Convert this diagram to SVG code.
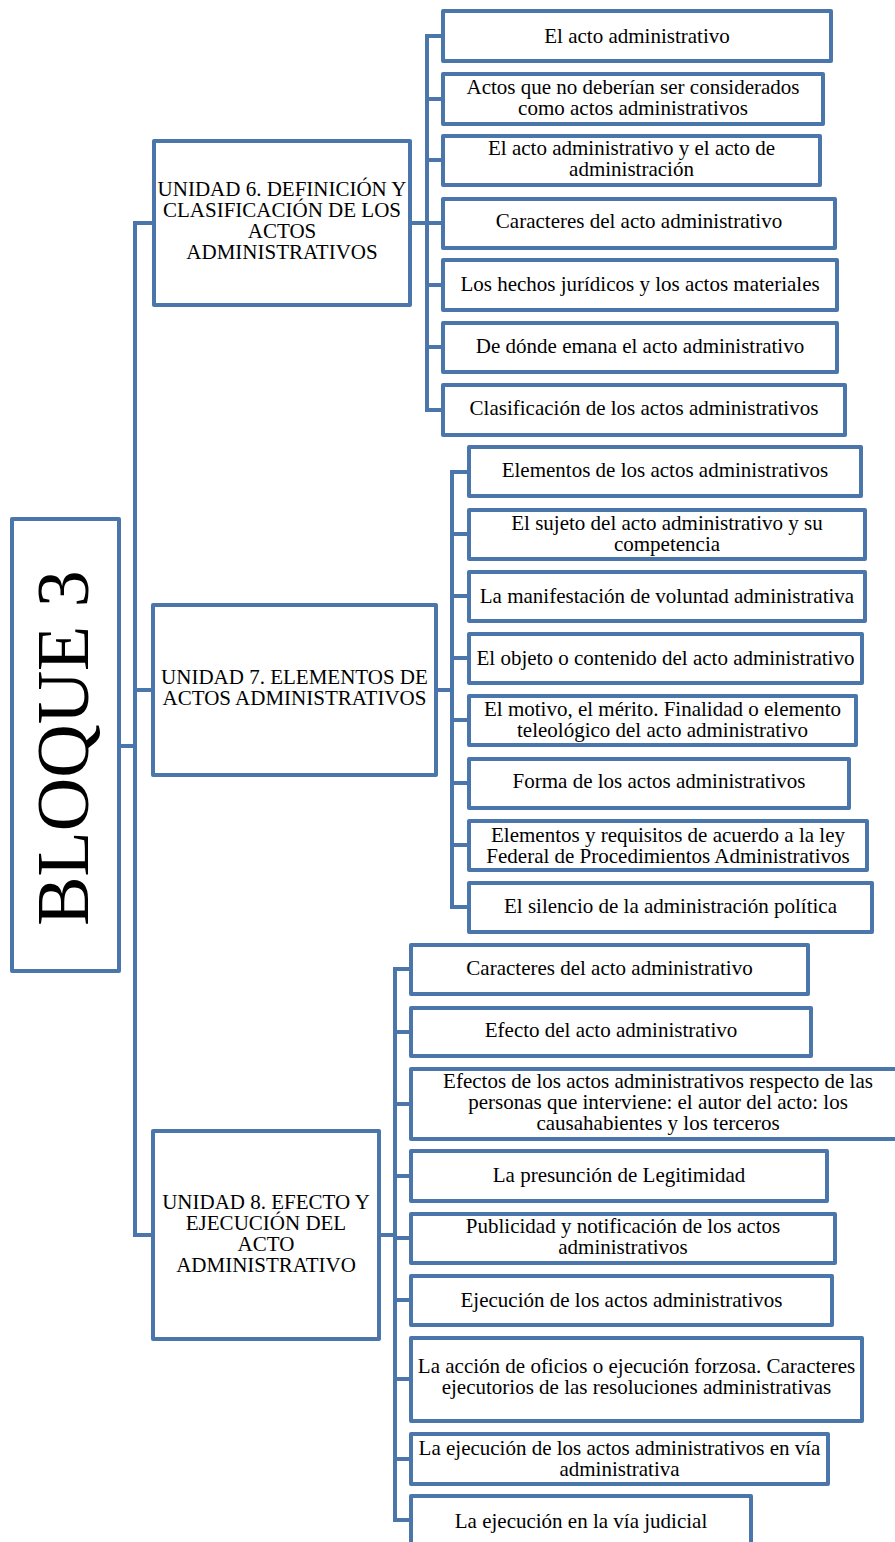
<svg xmlns="http://www.w3.org/2000/svg" width="895" height="1542" viewBox="0 0 895 1542">
<style>
.box{fill:#fff;stroke:#4A76AC;stroke-width:4;stroke-linejoin:round}
.con{fill:none;stroke:#4A76AC;stroke-width:4;stroke-linejoin:round;stroke-linecap:square}
text{font-family:"Liberation Serif","Times New Roman",serif;font-size:21px;fill:#000;text-anchor:middle}
.big{font-size:74px}
</style>
<rect width="895" height="1542" fill="#fff"/>
<g id="connectors">
<path class="con" d="M121,746H135M135,223V1235M135,223H152M135,690H151M135,1235H151"/>
<path class="con" d="M412,223H427M427,36V410M427,36H441M427,99H441M427,160H441M427,223H441M427,285H441M427,347H441M427,410H441"/>
<path class="con" d="M438,690H452M452,472V907M452,472H467M452,534H467M452,596H467M452,658H467M452,720H467M452,783H467M452,845H467M452,907H467"/>
<path class="con" d="M381,1235H395M395,969V1520M395,969H409M395,1032H409M395,1104H409M395,1176H409M395,1238H409M395,1300H409M395,1379H409M395,1459H409M395,1520H409"/>
</g>
<g id="bloque3">
<rect class="box" x="12" y="519" width="107" height="452"/>
<text class="big" transform="translate(88,748) rotate(-90)">BLOQUE 3</text>
</g>
<g id="unidad6">
<rect class="box" x="154" y="141" width="256" height="164"/>
<text x="282" y="196">UNIDAD 6. DEFINICIÓN Y</text>
<text x="282" y="217">CLASIFICACIÓN DE LOS</text>
<text x="282" y="238">ACTOS</text>
<text x="282" y="259">ADMINISTRATIVOS</text>
</g>
<g id="u6c1"><rect class="box" x="443" y="11" width="388" height="50"/><text x="637" y="43">El acto administrativo</text></g>
<g id="u6c2"><rect class="box" x="443" y="74" width="380" height="50"/><text x="633" y="94">Actos que no deberían ser considerados</text><text x="633" y="115">como actos administrativos</text></g>
<g id="u6c3"><rect class="box" x="443" y="136" width="377" height="49"/><text x="631.5" y="155">El acto administrativo y el acto de</text><text x="631.5" y="176">administración</text></g>
<g id="u6c4"><rect class="box" x="443" y="199" width="392" height="49"/><text x="639" y="228">Caracteres del acto administrativo</text></g>
<g id="u6c5"><rect class="box" x="443" y="260" width="394" height="50"/><text x="640" y="291">Los hechos jurídicos y los actos materiales</text></g>
<g id="u6c6"><rect class="box" x="443" y="323" width="394" height="49"/><text x="640" y="353">De dónde emana el acto administrativo</text></g>
<g id="u6c7"><rect class="box" x="443" y="385" width="402" height="50"/><text x="644" y="415">Clasificación de los actos administrativos</text></g>
<g id="unidad7">
<rect class="box" x="153" y="605" width="283" height="170"/>
<text x="294.5" y="684">UNIDAD 7. ELEMENTOS DE</text>
<text x="294.5" y="705">ACTOS ADMINISTRATIVOS</text>
</g>
<g id="u7c1"><rect class="box" x="469" y="447" width="392" height="49"/><text x="665" y="477">Elementos de los actos administrativos</text></g>
<g id="u7c2"><rect class="box" x="469" y="510" width="396" height="49"/><text x="667" y="530">El sujeto del acto administrativo y su</text><text x="667" y="551">competencia</text></g>
<g id="u7c3"><rect class="box" x="469" y="572" width="396" height="49"/><text x="667" y="603">La manifestación de voluntad administrativa</text></g>
<g id="u7c4"><rect class="box" x="469" y="634" width="393" height="49"/><text x="665.5" y="665">El objeto o contenido del acto administrativo</text></g>
<g id="u7c5"><rect class="box" x="469" y="696" width="387" height="49"/><text x="662.5" y="716">El motivo, el mérito. Finalidad o elemento</text><text x="662.5" y="737">teleológico del acto administrativo</text></g>
<g id="u7c6"><rect class="box" x="469" y="759" width="380" height="49"/><text x="659" y="788">Forma de los actos administrativos</text></g>
<g id="u7c7"><rect class="box" x="469" y="821" width="398" height="49"/><text x="668" y="842">Elementos y requisitos de acuerdo a la ley</text><text x="668" y="863">Federal de Procedimientos Administrativos</text></g>
<g id="u7c8"><rect class="box" x="469" y="883" width="403" height="49"/><text x="670.5" y="913">El silencio de la administración política</text></g>
<g id="unidad8">
<rect class="box" x="153" y="1131" width="226" height="208"/>
<text x="266" y="1209">UNIDAD 8. EFECTO Y</text>
<text x="266" y="1230">EJECUCIÓN DEL</text>
<text x="266" y="1251">ACTO</text>
<text x="266" y="1272">ADMINISTRATIVO</text>
</g>
<g id="u8c1"><rect class="box" x="411" y="945" width="397" height="49"/><text x="609.5" y="975">Caracteres del acto administrativo</text></g>
<g id="u8c2"><rect class="box" x="411" y="1008" width="400" height="48"/><text x="611" y="1037">Efecto del acto administrativo</text></g>
<g id="u8c3"><rect class="box" x="411" y="1069" width="494" height="70"/><text x="658" y="1088">Efectos de los actos administrativos respecto de las</text><text x="658" y="1109">personas que interviene: el autor del acto: los</text><text x="658" y="1130">causahabientes y los terceros</text></g>
<g id="u8c4"><rect class="box" x="411" y="1151" width="416" height="50"/><text x="619" y="1182">La presunción de Legitimidad</text></g>
<g id="u8c5"><rect class="box" x="411" y="1214" width="424" height="49"/><text x="623" y="1233">Publicidad y notificación de los actos</text><text x="623" y="1254">administrativos</text></g>
<g id="u8c6"><rect class="box" x="411" y="1276" width="421" height="49"/><text x="621.5" y="1307">Ejecución de los actos administrativos</text></g>
<g id="u8c7"><rect class="box" x="411" y="1338" width="451" height="83"/><text x="636.5" y="1373">La acción de oficios o ejecución forzosa. Caracteres</text><text x="636.5" y="1394">ejecutorios de las resoluciones administrativas</text></g>
<g id="u8c8"><rect class="box" x="411" y="1434" width="417" height="50"/><text x="619.5" y="1455">La ejecución de los actos administrativos en vía</text><text x="619.5" y="1476">administrativa</text></g>
<g id="u8c9"><rect class="box" x="411" y="1496" width="340" height="54"/><text x="581" y="1528">La ejecución en la vía judicial</text></g>
</svg>
